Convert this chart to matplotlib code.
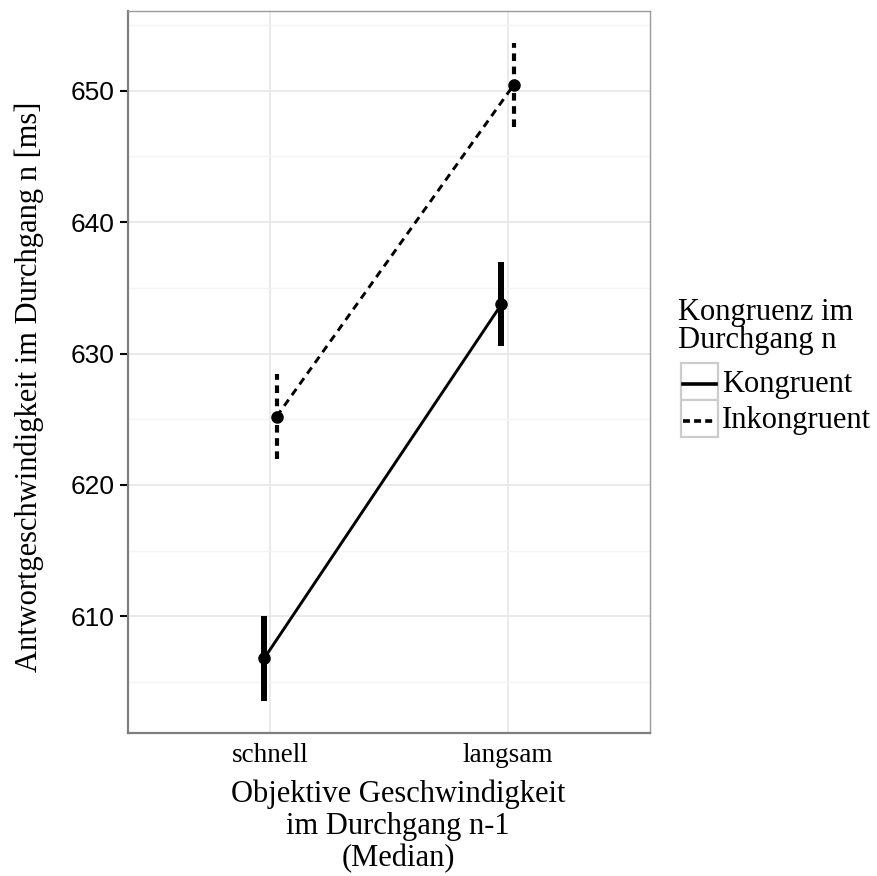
import matplotlib.pyplot as plt
from matplotlib.lines import Line2D
from matplotlib.patches import Rectangle

plt.rcParams['lines.scale_dashes'] = False

speeds = ['schnell', 'langsam']
groups = ['Kongruent', 'Inkongruent']
means = {'Kongruent': [606.8, 633.75], 'Inkongruent': [625.2, 650.45]}
errors = {'Kongruent': [3.25, 3.2], 'Inkongruent': [3.25, 3.2]}
dodge = {'Kongruent': -0.026, 'Inkongruent': 0.026}

x_title = ['Objektive Geschwindigkeit', 'im Durchgang n-1', '(Median)']
y_title = 'Antwortgeschwindigkeit im Durchgang n [ms]'
legend_title = ['Kongruenz im', 'Durchgang n']

W, H = 877, 876
fig = plt.figure(figsize=(W / 100, H / 100), dpi=100)
x0, x1, y0, y1 = 128, 650, 11, 732.7
ax = fig.add_axes([x0 / W, 1 - y1 / H, (x1 - x0) / W, (y1 - y0) / H])

serif = 'Liberation Serif'
sans = 'Liberation Sans'
dash = (0, (5.5, 4))
styles = {
    'Kongruent': dict(ls='-', lw=2.1, elw=4.3),
    'Inkongruent': dict(ls=dash, lw=2.1, elw=3.0),
}

for g in groups:
    xs = [i + dodge[g] for i in range(len(speeds))]
    st = styles[g]
    ax.plot(xs, means[g], color='black', linestyle=st['ls'], lw=st['lw'], zorder=3)
    lo = [m - e for m, e in zip(means[g], errors[g])]
    hi = [m + e for m, e in zip(means[g], errors[g])]
    ax.vlines(xs, lo, hi, color='black', linestyles=[st['ls']], lw=st['elw'], zorder=3)
    ax.plot(xs, means[g], 'o', color='black', ms=8, zorder=4)

ax.set_xlim(-0.6, 1.6)
ax.set_ylim(601.14, 656.07)
ax.set_xticks(range(len(speeds)))
ax.set_xticklabels(speeds, fontfamily=serif, fontsize=19.5)
ax.set_yticks([610, 620, 630, 640, 650])
ax.set_yticks([605, 615, 625, 635, 645, 655], minor=True)
ax.tick_params(axis='y', which='major', length=6, width=1.5, color='black',
               labelsize=19, pad=3.5)
ax.tick_params(axis='y', which='minor', length=0)
ax.tick_params(axis='x', length=0, pad=7.5)
for lab in ax.get_yticklabels():
    lab.set_fontfamily(sans)

ax.grid(True, which='major', color='#e6e6e6', lw=1.2, zorder=0)
ax.grid(True, which='minor', axis='y', color='#f4f4f4', lw=1.0, zorder=0)
ax.set_axisbelow(True)
for side in ['top', 'right']:
    ax.spines[side].set_color('#9a9a9a')
    ax.spines[side].set_linewidth(1.0)
for side in ['left', 'bottom']:
    ax.spines[side].set_color('#7f7f7f')
    ax.spines[side].set_linewidth(1.6)


# titles and legend placed in figure pixel coordinates
def fx(px):
    return px / W


def fy(py):
    return 1 - py / H


for line, base in zip(x_title, [802, 834, 866]):
    fig.text(fx(398), fy(base), line, fontfamily=serif, fontsize=22,
             ha='center', va='baseline')

fig.text(fx(37), fy(387), y_title, fontfamily=serif, fontsize=22, rotation=90,
         rotation_mode='anchor', ha='center', va='baseline')

for line, base in zip(legend_title, [320, 348]):
    fig.text(fx(678), fy(base), line, fontfamily=serif, fontsize=22, va='baseline')

key_top = [363, 400]
key_dash = {'Kongruent': '-', 'Inkongruent': (0, (5, 3))}
for g, top, base in zip(groups, key_top, [392, 428]):
    fig.patches.append(Rectangle((fx(681), fy(top + 37)), 37 / W, 37 / H,
                                 transform=fig.transFigure, facecolor='white',
                                 edgecolor='#cccccc', lw=1.6))
    fig.lines.append(Line2D([fx(683), fx(716)], [fy(top + 21)] * 2,
                            transform=fig.transFigure, color='black',
                            linestyle=key_dash[g], lw=2.6))
    fig.text(fx(722), fy(base), g, fontfamily=serif, fontsize=22, va='baseline')

fig.savefig('out.png', dpi=100)
